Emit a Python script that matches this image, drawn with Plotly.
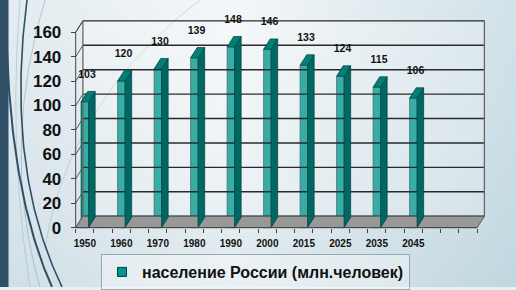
import numpy as np
import plotly.graph_objects as go

# ---------------- data ----------------
years = ["1950", "1960", "1970", "1980", "1990", "2000", "2015", "2025", "2035", "2045"]
population = [103, 120, 130, 139, 148, 146, 133, 124, 115, 106]
y_ticks = [0, 20, 40, 60, 80, 100, 120, 140, 160]
series_name = "население России (млн.человек)"

# ---------------- geometry / style ----------------
W, H = 516, 290
N_SLOTS = 22          # category slots on the floor, a bar every second slot
STEP = 2
SLOT_PX = 18.25
X0_PX = 75.7          # front-left corner of the floor (pixel)
ZERO_PX = 230.0       # front zero line (pixel)
PX_PER_UNIT = 1.234
YMAX = 160

x_range = [-0.5 - X0_PX / SLOT_PX, -0.5 + (W - X0_PX) / SLOT_PX]
y_range = [-(H - ZERO_PX) / PX_PER_UNIT, ZERO_PX / PX_PER_UNIT]

DX = 7.2 / SLOT_PX            # depth of the box (category units)
DY = 11.5 / PX_PER_UNIT       # depth of the box (value units)
BW = 0.41                     # bar front width
BDX = 6.6 / SLOT_PX           # bar depth
BDY = 10.5 / PX_PER_UNIT

FONT = "Liberation Sans, Arial, sans-serif"
FRONT = "rgb(0,150,142)"
SIDE = "rgb(0,104,98)"
TOP = "rgb(0,128,121)"
EDGE = "rgb(0,62,60)"

fig = go.Figure()

# ---------------- slide decoration (pixel coords on x/y) ----------------
fig.add_trace(go.Scatter(x=[0, W, W, 0, 0], y=[0, 0, H, H, 0], mode="lines", fill="toself",
                         line=dict(width=0), hoverinfo="skip", showlegend=False,
                         fillgradient=dict(type="horizontal",
                                           colorscale=[[0, "#d9e5eb"], [0.45, "#f0f4f6"], [1, "#c2d8e1"]])))
fig.add_trace(go.Scatter(x=[0, W, W, 0, 0], y=[0, 0, H, H, 0], mode="lines", fill="toself",
                         line=dict(width=0), hoverinfo="skip", showlegend=False,
                         fillgradient=dict(type="vertical",
                                           colorscale=[[0, "rgba(190,212,222,0.35)"], [1, "rgba(255,255,255,0.25)"]])))
fig.add_trace(go.Scatter(x=[0, 8.5, 8.5, 0, 0], y=[0, 0, H, H, 0], mode="lines", fill="toself",
                         fillcolor="#2e4f66", line=dict(width=0), hoverinfo="skip", showlegend=False))


def bez(p0, p1, p2, n=60):
    t = np.linspace(0, 1, n)
    x = (1 - t) ** 2 * p0[0] + 2 * (1 - t) * t * p1[0] + t ** 2 * p2[0]
    y = (1 - t) ** 2 * p0[1] + 2 * (1 - t) * t * p1[1] + t ** 2 * p2[1]
    return x, y


decor_curves = [
    ((45, 0), (0, 150), (40, 290), "rgba(150,170,180,0.6)", 1),
    ((20, 0), (8, 150), (30, 290), "rgba(160,180,190,0.5)", 1),
    ((45, 250), (70, 100), (200, 0), "rgba(150,170,180,0.5)", 0.8),
    ((27, 0), (5, 170), (62, 290), "#2e4f66", 1.6),
    ((7, 50), (12, 200), (52, 290), "#2e4f66", 2.0),
]
for p0, p1, p2, c, w in decor_curves:
    cx, cy = bez(p0, p1, p2)
    fig.add_trace(go.Scatter(x=cx, y=cy, mode="lines", line=dict(color=c, width=w),
                             hoverinfo="skip", showlegend=False))

# ---------------- chart (x2 / y2) ----------------
def add(tr):
    tr.update(xaxis="x2", yaxis="y2", hoverinfo="skip", showlegend=False)
    fig.add_trace(tr)


xl, xr = -0.5, N_SLOTS - 0.5
# back wall
add(go.Scatter(x=[xl + DX, xr + DX, xr + DX, xl + DX, xl + DX],
               y=[DY, DY, YMAX + DY, YMAX + DY, DY], mode="lines", fill="toself",
               fillcolor="rgba(255,255,255,0.22)", line=dict(width=0)))
# gridlines on back wall + diagonals on the side wall
gx, gy, dxs, dys = [], [], [], []
for v in y_ticks:
    gx += [xl + DX, xr + DX, None]
    gy += [v + DY, v + DY, None]
    dxs += [xl, xl + DX, None]
    dys += [v, v + DY, None]
add(go.Scatter(x=gx, y=gy, mode="lines", line=dict(color="#2a2a2a", width=1.4)))
add(go.Scatter(x=dxs, y=dys, mode="lines", line=dict(color="#555", width=1)))
# wall edges
add(go.Scatter(x=[xl + DX, xl + DX, None, xr + DX, xr + DX], y=[DY, YMAX + DY, None, DY, YMAX + DY],
               mode="lines", line=dict(color="#666", width=1.3)))
# floor
add(go.Scatter(x=[xl, xr, xr + DX, xl + DX, xl], y=[0, 0, DY, DY, 0], mode="lines", fill="toself",
               fillcolor="rgb(152,152,152)", line=dict(color="#5a5a5a", width=1)))

pos = [STEP * i for i in range(len(years))]

# bar side faces and top faces
sx, sy, tx, ty = [], [], [], []
for p, v in zip(pos, population):
    r = p + BW / 2
    l = p - BW / 2
    sx += [r, r + BDX, r + BDX, r, r, None]
    sy += [0, BDY, v + BDY, v, 0, None]
    tx += [l, r, r + BDX, l + BDX, l, None]
    ty += [v, v, v + BDY, v + BDY, v, None]
add(go.Scatter(x=sx, y=sy, mode="lines", fill="toself", fillcolor=SIDE, line=dict(color=EDGE, width=0.7)))
add(go.Scatter(x=tx, y=ty, mode="lines", fill="toself", fillcolor=TOP, line=dict(color=EDGE, width=0.7)))
# bar front faces
add(go.Bar(x=pos, y=population, width=BW, marker=dict(color=FRONT, line=dict(color=EDGE, width=0.7))))

# front axis lines
add(go.Scatter(x=[xl, xl, None, xl, xr], y=[YMAX, 0, None, 0, 0], mode="lines",
               line=dict(color="#444", width=1)))
add(go.Scatter(x=[xl, xl + DX], y=[YMAX, YMAX + DY], mode="lines", line=dict(color="#444", width=1)))

# data labels
add(go.Scatter(x=[p + 0.12 for p in pos], y=[v + 21.7 for v in population], mode="text",
               text=[f"<b>{v}</b>" for v in population], textposition="middle center",
               textfont=dict(family=FONT, size=10.5, color="#111"), cliponaxis=False))

# legend entry
fig.add_trace(go.Scatter(x=[None], y=[None], xaxis="x2", yaxis="y2", mode="markers", name=series_name,
                         marker=dict(symbol="square", size=9, color=FRONT, line=dict(color=EDGE, width=1)),
                         showlegend=True))

fig.update_layout(
    width=W, height=H, margin=dict(l=0, r=0, t=0, b=0),
    paper_bgcolor="#e9f0f3", plot_bgcolor="rgba(0,0,0,0)",
    showlegend=True,
    xaxis=dict(range=[0, W], visible=False, fixedrange=True),
    yaxis=dict(range=[H, 0], visible=False, fixedrange=True),
    xaxis2=dict(range=x_range, overlaying="x", anchor="free", position=1 - ZERO_PX / H,
                showgrid=False, zeroline=False, showline=False,
                tickmode="array", tickvals=pos, ticktext=[f"<b>{y}</b>" for y in years],
                ticks="", tickfont=dict(family=FONT, size=10, color="#111"),
                ticklabelstandoff=8,
                minor=dict(tickmode="array", tickvals=[i - 0.5 for i in range(N_SLOTS + 1)],
                           ticks="outside", ticklen=4, tickcolor="#444", tickwidth=1)),
    yaxis2=dict(range=y_range, overlaying="y", anchor="free", position=X0_PX / W,
                showgrid=False, zeroline=False, showline=False,
                tickmode="array", tickvals=y_ticks, ticktext=[f"<b>{t}</b>" for t in y_ticks],
                ticks="outside", ticklen=5, tickcolor="#444",
                tickfont=dict(family=FONT, size=17, color="#111"), ticklabelstandoff=6),
    legend=dict(x=101 / W, y=1 - 257 / H, xanchor="left", yanchor="top",
                bgcolor="rgba(255,255,255,0.35)", bordercolor="#9aa", borderwidth=1,
                font=dict(family=FONT, size=16, color="#111", weight="bold"),
                itemwidth=30),
)

fig.write_html("out.html")
